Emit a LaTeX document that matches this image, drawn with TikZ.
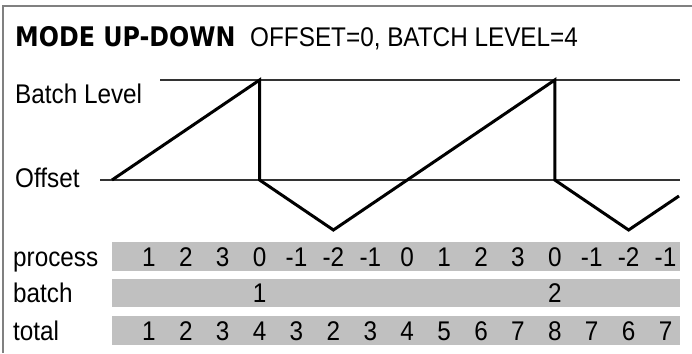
\documentclass[tikz,border=0pt]{standalone}
\usepackage{fontspec}
\setmainfont{Liberation Sans}[FakeStretch=0.9]
\newfontfamily\titlefont{DejaVu Sans}[FakeStretch=0.88]
\usetikzlibrary{positioning}
\definecolor{barGray}{HTML}{C0C0C0}

\begin{document}
\begin{tikzpicture}[x = 1pt, y = -1pt, font=\fontsize{27}{30}\selectfont,
  lbl/.style = {anchor=base west, inner sep=0pt},
  num/.style = {anchor=base, inner sep=0pt},
  level/.style = {line width=1.5pt, black!80},
  ramp/.style = {line width=3pt, line join=miter}]
\useasboundingbox (0,0) rectangle (692,353);
% frame
\draw[gray, line width=1.5pt] (3,353) -- (3,6) -- (692,6);
% title
\node[lbl] (mode) at (15,47) {\titlefont\bfseries\fontsize{27}{30}\selectfont MODE UP-DOWN};
\node[lbl] (params) at (250,47) {OFFSET=0, BATCH LEVEL=4};
% levels
\node[lbl] (batchLevel) at (15,103) {Batch Level};
\node[lbl] (offset) at (15,187) {Offset};
\coordinate (batchStart) at (160,80);
\coordinate (batchEnd) at (680,80);
\coordinate (offStart) at (100,180);
\coordinate (offEnd) at (680,180);
\draw[level] (batchStart) -- (batchEnd);
\draw[level] (offStart) -- (offEnd);
% ramp
\draw[ramp] (112,180) -- (259.6,80) -- (259.6,180) -- (333.4,230)
  -- (554.8,80) -- (554.8,180) -- (628.6,230) -- (679,196);
% rows
\fill[barGray] (112,242) rectangle (680,271);
\fill[barGray] (112,279) rectangle (680,307);
\fill[barGray] (112,316) rectangle (680,345);
\node[lbl] (process) at (13,266) {process};
\node[lbl] (batch) at (13,302) {batch};
\node[lbl] (total) at (13,340) {total};
\foreach \v [count=\k] in {1,2,3,0,-1,-2,-1,0,1,2,3,0,-1,-2,-1}
  \node[num] (p\k) at ({112+36.9*\k},266) {\v};
\node[num] (b1) at ({112+36.9*4},302) {1};
\node[num] (b2) at ({112+36.9*12},302) {2};
\foreach \v [count=\k] in {1,2,3,4,3,2,3,4,5,6,7,8,7,6,7}
  \node[num] (t\k) at ({112+36.9*\k},340) {\v};
\end{tikzpicture}
\end{document}
